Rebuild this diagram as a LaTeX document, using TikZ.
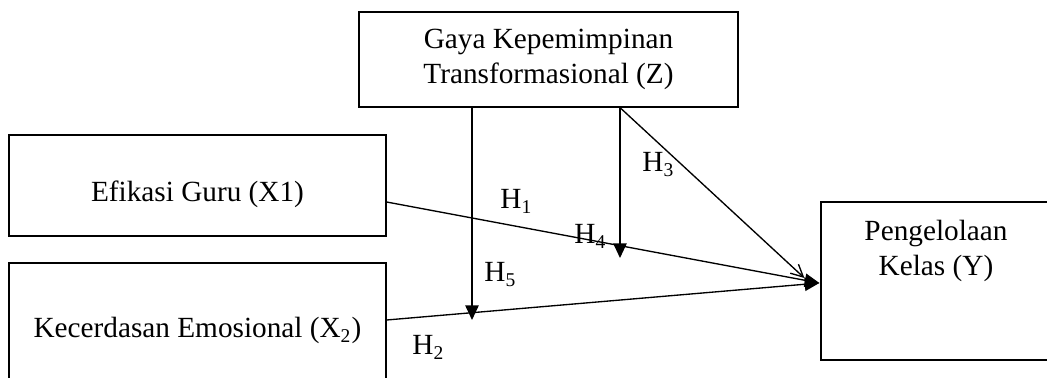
\documentclass[tikz,border=0pt]{standalone}
\usepackage{fontspec}
\setmainfont{Liberation Serif}
\usetikzlibrary{arrows.meta,calc}
\newlength\pxu
\setlength\pxu{0.41pt}
\begin{document}
\begin{tikzpicture}[x=\pxu,y=-\pxu,
  font=\fontsize{12}{14.4}\selectfont,
  box/.style={draw, line width=0.5pt, rectangle, inner sep=0pt, align=center},
  txt/.style={inner sep=0pt, align=center},
  hlab/.style={inner sep=0pt, anchor=base west},
  arr/.style={line width=0.55pt, -{Triangle[length=6pt,width=5.5pt]}},
  barb/.style={line width=0.55pt, -{Straight Barb[length=5pt,width=5pt]}}]
\useasboundingbox (0,0) rectangle (1047,378);
\clip (0,0) rectangle (1047,378);
% boxes
\node[box, minimum width=379*\pxu, minimum height=95*\pxu] (Z) at (548.5,59.5)
  {Gaya Kepemimpinan\\Transformasional (Z)};
\node[box, minimum width=377*\pxu, minimum height=101*\pxu] (X1) at (197.5,185.5) {};
\node[box, minimum width=377*\pxu, minimum height=137*\pxu] (X2) at (197.5,331.5) {};
\node[box, minimum width=230*\pxu, minimum height=158*\pxu] (Y) at (936,281) {};
% texts
\node[txt, anchor=base] (X1t) at (197.5,202) {Efikasi Guru (X1)};
\node[txt, anchor=base] (X2t) at (197.5,338) {Kecerdasan Emosional (X\textsubscript{2})};
\node[txt, anchor=north] (Yt) at (936,220) {Pengelolaan\\Kelas (Y)};
% connector ends
\coordinate (t4) at (620,258);
\coordinate (t5) at (472,320);
% connectors
\draw[arr] ($(X1.east)+(0,16.5)$) -- ($(Y.west)+(-1,2)$);
\draw[arr] ($(X2.east)+(0,-11.5)$) -- ($(Y.west)+(-1,2)$);
\draw[barb] ($(Z.south)+(71.5,0)$) -- ($(Y.west)+(-16,-3)$);
\draw[arr] ($(Z.south)+(71.5,0)$) -- (t4);
\draw[arr] ($(Z.south)+(-76.5,0)$) -- (t5);
% labels
\node[hlab] (H1) at (500,209) {H\textsubscript{1}};
\node[hlab] (H3) at (642,172) {H\textsubscript{3}};
\node[hlab] (H4) at (574,244) {H\textsubscript{4}};
\node[hlab] (H5) at (484,282) {H\textsubscript{5}};
\node[hlab] (H2) at (412,355) {H\textsubscript{2}};
\end{tikzpicture}
\end{document}
